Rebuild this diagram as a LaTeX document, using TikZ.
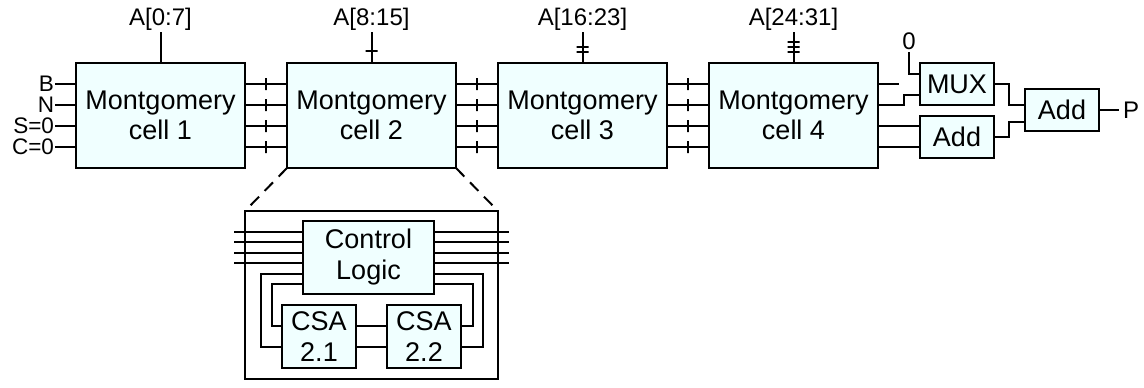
\documentclass[tikz,border=0pt]{standalone}
\usepackage{fontspec}
\setmainfont{Liberation Sans}
\usepackage{xcolor}
\usetikzlibrary{positioning, calc}
\definecolor{cellfill}{RGB}{240,255,255}

\begin{document}
\begin{tikzpicture}[
    line width=2pt,
    node distance=42pt,
    cell/.style={draw, rectangle, minimum width=169pt, minimum height=105pt,
      align=center, fill=cellfill, inner sep=0pt, outer sep=0pt,
      font=\fontsize{27pt}{30.5pt}\selectfont},
    smallbox/.style={draw, rectangle, minimum width=74pt, minimum height=42pt,
      align=center, fill=cellfill, inner sep=0pt, outer sep=0pt,
      font=\fontsize{27pt}{31pt}\selectfont},
    lbl/.style={inner sep=2pt, outer sep=0pt, font=\fontsize{24pt}{27pt}\selectfont},
    inlbl/.style={inner sep=0pt, outer sep=0pt, font=\fontsize{22.5pt}{22.5pt}\selectfont},
    vtick/.style={draw, inner sep=0pt, outer sep=0pt, minimum width=0pt, minimum height=12pt},
    htick/.style={draw, inner sep=0pt, outer sep=0pt, minimum width=12pt, minimum height=0pt},
    zoomline/.style={dash pattern=on 12pt off 8pt}
]
\useasboundingbox (0,0) rectangle (1144pt,-388pt);

\node (c1) [cell] at (160.5pt,-115.5pt) {Montgomery\\cell 1};
\node (c2) [cell, right=of c1] {Montgomery\\cell 2};
\node (c3) [cell, right=of c2] {Montgomery\\cell 3};
\node (c4) [cell, right=of c3] {Montgomery\\cell 4};

\node (a1) [lbl, above=31pt of c1] {A[0:7]};
\node (a2) [lbl, above=31pt of c2] {A[8:15]};
\node (a3) [lbl, above=31pt of c3] {A[16:23]};
\node (a4) [lbl, above=31pt of c4] {A[24:31]};
\draw (c1.north) -- (a1.south);
\draw (c2.north) -- node[htick, pos=0.39] {} (a2.south);
\draw (c3.north) -- node[htick, pos=0.35] {} node[htick, pos=0.52] {} (a3.south);
\draw (c4.north) -- node[htick, pos=0.35] {} node[htick, pos=0.52] {}
  node[htick, pos=0.68] {} (a4.south);

\node (inb) [inlbl, left=22pt of c1.west, yshift=31.5pt] {B};
\node (inn) [inlbl, left=22pt of c1.west, yshift=10.5pt] {N};
\node (ins) [inlbl, left=22pt of c1.west, yshift=-10.5pt] {S=0};
\node (inc) [inlbl, left=22pt of c1.west, yshift=-31.5pt] {C=0};
\draw ([xshift=1pt]inb.east) -- (inb -| c1.west);
\draw ([xshift=1pt]inn.east) -- (inn -| c1.west);
\draw ([xshift=1pt]ins.east) -- (ins -| c1.west);
\draw ([xshift=1pt]inc.east) -- (inc -| c1.west);

\foreach \a/\b in {c1/c2, c2/c3, c3/c4}
  \foreach \dy in {31.5, 10.5, -10.5, -31.5}
    \draw ([yshift=\dy pt]\a.east) -- node[vtick] {} ([yshift=\dy pt]\b.west);

\node (mux) [smallbox, right=42pt of c4.north east, anchor=north west] {MUX};
\node (add1) [smallbox, below=10.5pt of mux] {Add};
\coordinate (addmid) at ($(mux.east)!0.5!(add1.east)$);
\node (add2) [smallbox, right=31pt of addmid] {Add};
\node (p) [lbl, inner sep=4pt, right=20pt of add2] {P};
\coordinate (muxin) at ([yshift=10.5pt]mux.west);
\node (zero) [lbl, above left=21.5pt and 11pt of muxin, anchor=south] {0};

\draw ([yshift=31.5pt]c4.east) -- ++(21pt,0);
\draw ([yshift=10.5pt]c4.east) -- ++(26pt,0) |- ([yshift=-10.5pt]mux.west);
\draw ([yshift=-10.5pt]c4.east) -- ([yshift=10.5pt]add1.west);
\draw ([yshift=-31.5pt]c4.east) -- ([yshift=-10.5pt]add1.west);
\draw (zero.south) |- (muxin);
\draw (mux.east) -- ++(15pt,0) |- ([yshift=5pt]add2.west);
\draw (add1.east) -- ++(15pt,0) |- ([yshift=-11.5pt]add2.west);
\draw (add2) -- (p);

\node (detail) [draw, minimum width=253pt, minimum height=168pt, outer sep=0pt,
  below=43pt of c2] {};
\draw[zoomline] (c2.south west) -- (detail.north west);
\draw[zoomline] (c2.south east) -- (detail.north east);

\node (ctrl) [smallbox, minimum width=131pt, minimum height=73pt,
  below=10pt of detail.north, xshift=-3pt] {Control\\Logic};
\node (csa1) [smallbox, minimum height=63pt, below=11pt of ctrl.south west,
  anchor=north west, xshift=-21pt] {CSA\\2.1};
\node (csa2) [smallbox, minimum height=63pt, right=31pt of csa1] {CSA\\2.2};

\foreach \dy in {25.5, 15.1, 4.7, -5.7} {
  \draw ([yshift=\dy pt]ctrl.west) -- ++(-69pt,0);
  \draw ([yshift=\dy pt]ctrl.east) -- ++(75pt,0);
}
\draw ([yshift=-16.1pt]ctrl.west) -| ([xshift=-21pt, yshift=-10.5pt]csa1.west)
  -- ([yshift=-10.5pt]csa1.west);
\draw ([yshift=-26.5pt]ctrl.west) -| ([xshift=-10pt, yshift=10.5pt]csa1.west)
  -- ([yshift=10.5pt]csa1.west);
\draw ([yshift=-16.1pt]ctrl.east) -| ([xshift=22pt, yshift=-10.5pt]csa2.east)
  -- ([yshift=-10.5pt]csa2.east);
\draw ([yshift=-26.5pt]ctrl.east) -| ([xshift=12pt, yshift=10.5pt]csa2.east)
  -- ([yshift=10.5pt]csa2.east);
\draw ([yshift=10.5pt]csa1.east) -- ([yshift=10.5pt]csa2.west);
\draw ([yshift=-10.5pt]csa1.east) -- ([yshift=-10.5pt]csa2.west);
\end{tikzpicture}
\end{document}
